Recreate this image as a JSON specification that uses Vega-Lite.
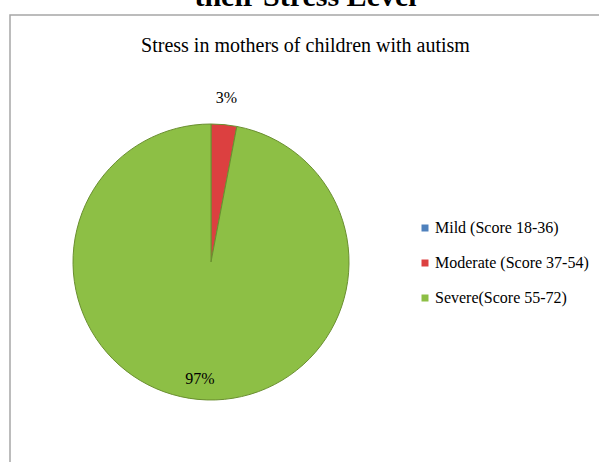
{
  "$schema": "https://vega.github.io/schema/vega-lite/v6.json",
  "autosize": {"type": "none"},
  "width": 591,
  "height": 449,
  "padding": {"left": 10, "top": 15, "right": -2, "bottom": -2},
  "background": "white",
  "view": {"stroke": "#a6a6a6", "strokeWidth": 1.5, "fill": "white"},
  "title": {
    "text": "their Stress Level",
    "subtitle": "Stress in mothers of children with autism",
    "anchor": "middle",
    "font": "Liberation Serif",
    "fontSize": 30,
    "fontWeight": "bold",
    "color": "#000000",
    "subtitleFont": "Liberation Serif",
    "subtitleFontSize": 20,
    "subtitleColor": "#000000",
    "subtitlePadding": 24,
    "offset": -41
  },
  "data": {
    "values": [
      {"category": "Mild (Score 18-36)", "pct": 0, "label": "0%"},
      {"category": "Moderate (Score 37-54)", "pct": 3, "label": "3%"},
      {"category": "Severe(Score 55-72)", "pct": 97, "label": "97%"}
    ]
  },
  "encoding": {
    "theta": {"field": "pct", "type": "quantitative", "stack": true},
    "order": {"field": "category", "sort": "ascending"}
  },
  "layer": [
    {
      "mark": {"type": "arc", "radius": 138, "x": 201, "y": 247, "stroke": "#6a8f30", "strokeWidth": 1},
      "encoding": {
        "color": {
          "field": "category",
          "type": "nominal",
          "scale": {
            "domain": ["Mild (Score 18-36)", "Moderate (Score 37-54)", "Severe(Score 55-72)"],
            "range": ["#4F81BD", "#DC4040", "#8DBF45"]
          },
          "legend": {
            "title": null,
            "orient": "none",
            "legendX": 407,
            "legendY": 205,
            "symbolType": "square",
            "symbolSize": 49,
            "symbolStrokeWidth": 0,
            "labelFont": "Liberation Serif",
            "labelFontSize": 16,
            "labelColor": "#000000",
            "labelOffset": 2,
            "rowPadding": 19,
            "labelLimit": 300
          }
        }
      }
    },
    {
      "mark": {"type": "text", "radius": 165, "x": 201, "y": 247, "font": "Liberation Serif", "fontSize": 16, "color": "#000000"},
      "encoding": {
        "text": {"condition": {"test": "datum.pct > 0 && datum.pct < 10", "field": "label"}, "value": ""}
      }
    },
    {
      "mark": {"type": "text", "radius": 118, "x": 201, "y": 247, "font": "Liberation Serif", "fontSize": 16, "color": "#000000"},
      "encoding": {
        "text": {"condition": {"test": "datum.pct >= 10", "field": "label"}, "value": ""}
      }
    }
  ]
}
